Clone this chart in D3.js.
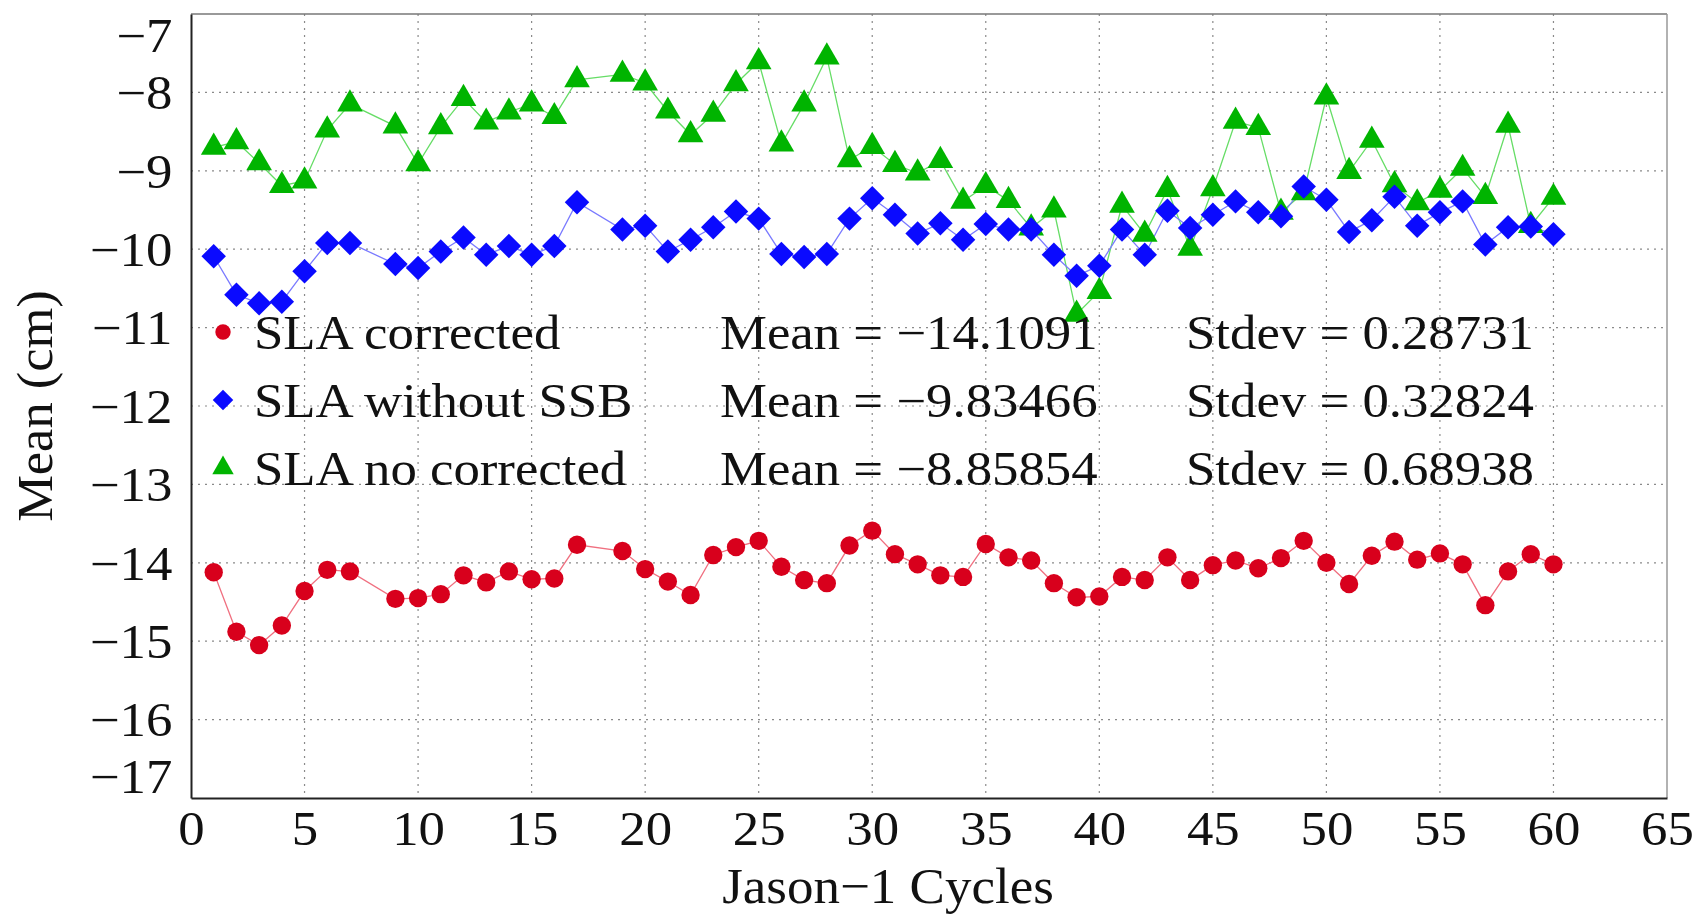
<!DOCTYPE html>
<html><head><meta charset="utf-8">
<script src="https://cdn.jsdelivr.net/npm/d3@7"></script>
<style>
html,body{margin:0;padding:0;background:#fff;}
svg{display:block;}
text{font-family:"Liberation Serif","DejaVu Serif",serif;fill:#111;}
</style></head>
<body>
<svg id="chart" width="1698" height="919"></svg>
<script>
// ---- data ----
const cycles = [1,2,3,4,5,6,7,9,10,11,12,13,14,15,16,17,19,20,21,22,23,24,25,26,27,28,29,30,31,32,33,34,35,36,37,38,39,40,41,42,43,44,45,46,47,48,49,50,51,52,53,54,55,56,57,58,59,60];
const slaCorrected = [-14.12,-14.88,-15.05,-14.80,-14.36,-14.09,-14.11,-14.46,-14.45,-14.40,-14.16,-14.25,-14.11,-14.21,-14.20,-13.77,-13.85,-14.08,-14.24,-14.41,-13.90,-13.80,-13.72,-14.05,-14.22,-14.26,-13.78,-13.59,-13.89,-14.02,-14.16,-14.18,-13.76,-13.93,-13.97,-14.26,-14.44,-14.43,-14.18,-14.22,-13.93,-14.22,-14.03,-13.97,-14.07,-13.94,-13.72,-14.00,-14.27,-13.91,-13.73,-13.96,-13.88,-14.02,-14.54,-14.11,-13.89,-14.02];
const slaWithoutSSB = [-10.09,-10.58,-10.69,-10.67,-10.28,-9.92,-9.92,-10.19,-10.24,-10.03,-9.85,-10.07,-9.96,-10.07,-9.96,-9.40,-9.75,-9.70,-10.03,-9.88,-9.72,-9.52,-9.61,-10.06,-10.10,-10.06,-9.61,-9.35,-9.56,-9.80,-9.67,-9.88,-9.68,-9.75,-9.75,-10.07,-10.34,-10.21,-9.75,-10.07,-9.51,-9.73,-9.56,-9.39,-9.53,-9.58,-9.20,-9.37,-9.78,-9.63,-9.33,-9.70,-9.53,-9.39,-9.94,-9.72,-9.71,-9.81];
const slaNoCorrected = [-8.70,-8.63,-8.90,-9.19,-9.13,-8.48,-8.15,-8.43,-8.91,-8.44,-8.08,-8.38,-8.25,-8.15,-8.31,-7.84,-7.77,-7.88,-8.24,-8.54,-8.28,-7.89,-7.61,-8.66,-8.15,-7.55,-8.86,-8.69,-8.92,-9.03,-8.87,-9.39,-9.19,-9.38,-9.73,-9.50,-10.83,-10.54,-9.44,-9.81,-9.24,-9.99,-9.23,-8.37,-8.45,-9.53,-9.28,-8.06,-9.01,-8.61,-9.18,-9.41,-9.25,-8.97,-9.33,-8.42,-9.70,-9.34];
const seriesNames = ["SLA corrected","SLA without SSB","SLA no corrected"];
const meanLabels = ["Mean = \u221214.1091","Mean = \u22129.83466","Mean = \u22128.85854"];
const stdevLabels = ["Stdev = 0.28731","Stdev = 0.32824","Stdev = 0.68938"];
const xTicks = [0,5,10,15,20,25,30,35,40,45,50,55,60,65];
const yTicks = [-17,-16,-15,-14,-13,-12,-11,-10,-9,-8,-7];
const xTitle = "Jason\u22121 Cycles";
const yTitle = "Mean (cm)";

// ---- layout ----
const L = 191, R = 1667, T = 14, B = 798;
const SX = 1.1; // horizontal stretch of the serif type
const svg = d3.select("#chart");
const x = d3.scaleLinear().domain([0,65]).range([L,R]);
const y = d3.scaleLinear().domain([-17,-7]).range([B,T]);
const fmt = d => d3.format("d")(d).replace("-", "\u2212");

// grid
const grid = svg.append("g").attr("stroke","#8a8a8a").attr("stroke-width",1.2).attr("stroke-dasharray","2,5");
grid.selectAll("line.vx").data(xTicks.slice(1,-1)).join("line")
  .attr("x1",d=>x(d)).attr("x2",d=>x(d)).attr("y1",T).attr("y2",B);
grid.selectAll("line.hy").data(yTicks.slice(1,-1)).join("line")
  .attr("y1",d=>y(d)).attr("y2",d=>y(d)).attr("x1",L).attr("x2",R);

// frame
svg.append("line").attr("x1",L).attr("x2",R).attr("y1",T).attr("y2",T).attr("stroke","#777").attr("stroke-width",1.5);
svg.append("line").attr("x1",R).attr("x2",R).attr("y1",T).attr("y2",B).attr("stroke","#999").attr("stroke-width",1.5);

// axes
const xAxis = svg.append("g").attr("transform",`translate(0,${B})`)
  .call(d3.axisBottom(x).tickValues(xTicks).tickSize(0).tickPadding(12).tickFormat(fmt));
const yAxis = svg.append("g").attr("transform",`translate(${L},0)`)
  .call(d3.axisLeft(y).tickValues(yTicks).tickSize(0).tickPadding(17).tickFormat(fmt));
[xAxis,yAxis].forEach(a=>{
  a.select(".domain").attr("stroke","#222").attr("stroke-width",2);
  a.selectAll("text").attr("font-size",48).attr("font-family","Liberation Serif").attr("fill","#111")
    .attr("transform",`scale(${SX},1)`);
});
xAxis.selectAll("text").attr("dy","0.72em");
yAxis.selectAll("text").attr("dy",d => d === -7 ? "0.78em" : (d === -17 ? "-0.12em" : "0.34em"));

// titles
svg.append("text").attr("transform",`translate(888,903) scale(1.06,1)`).attr("text-anchor","middle")
  .attr("font-size",50).text(xTitle);
svg.append("text").attr("transform",`translate(52,406) rotate(-90) scale(1.05,1)`).attr("text-anchor","middle")
  .attr("font-size",50).text(yTitle);

// series
const series = [
  {vals: slaCorrected, color:"#d8001c", line:"#f07080", sym:d3.symbolCircle, size:265, rot:0},
  {vals: slaWithoutSSB, color:"#0a0aff", line:"#7a7aff", sym:d3.symbolSquare, size:300, rot:45},
  {vals: slaNoCorrected, color:"#00b400", line:"#66dd66", sym:d3.symbolTriangle, size:285, rot:0}
];
const lineGen = d3.line().x(d=>x(d[0])).y(d=>y(d[1]));
series.slice().reverse().forEach(s=>{
  const pts = cycles.map((c,i)=>[c,s.vals[i]]);
  svg.append("path").datum(pts).attr("d",lineGen).attr("fill","none")
    .attr("stroke",s.line).attr("stroke-width",1.3);
});
series.slice().reverse().forEach(s=>{
  const pts = cycles.map((c,i)=>[c,s.vals[i]]);
  svg.append("g").selectAll("path").data(pts).join("path")
    .attr("d",d3.symbol().type(s.sym).size(s.size))
    .attr("transform",d=>`translate(${x(d[0])},${y(d[1])}) rotate(${s.rot})`)
    .attr("fill",s.color);
});

// legend
const legY = [332, 400, 468];
series.forEach((s,i)=>{
  svg.append("path").attr("d",d3.symbol().type(s.sym).size(s.size*0.7)())
    .attr("transform",`translate(223,${legY[i]}) rotate(${s.rot})`).attr("fill",s.color);
  svg.append("text").attr("transform",`translate(254,${legY[i]}) scale(${SX},1)`).attr("dy","0.35em").attr("font-size",48).text(seriesNames[i]);
  svg.append("text").attr("transform",`translate(720,${legY[i]}) scale(${SX},1)`).attr("dy","0.35em").attr("font-size",48).text(meanLabels[i]);
  svg.append("text").attr("transform",`translate(1186,${legY[i]}) scale(${SX},1)`).attr("dy","0.35em").attr("font-size",48).text(stdevLabels[i]);
});
</script>
</body></html>
